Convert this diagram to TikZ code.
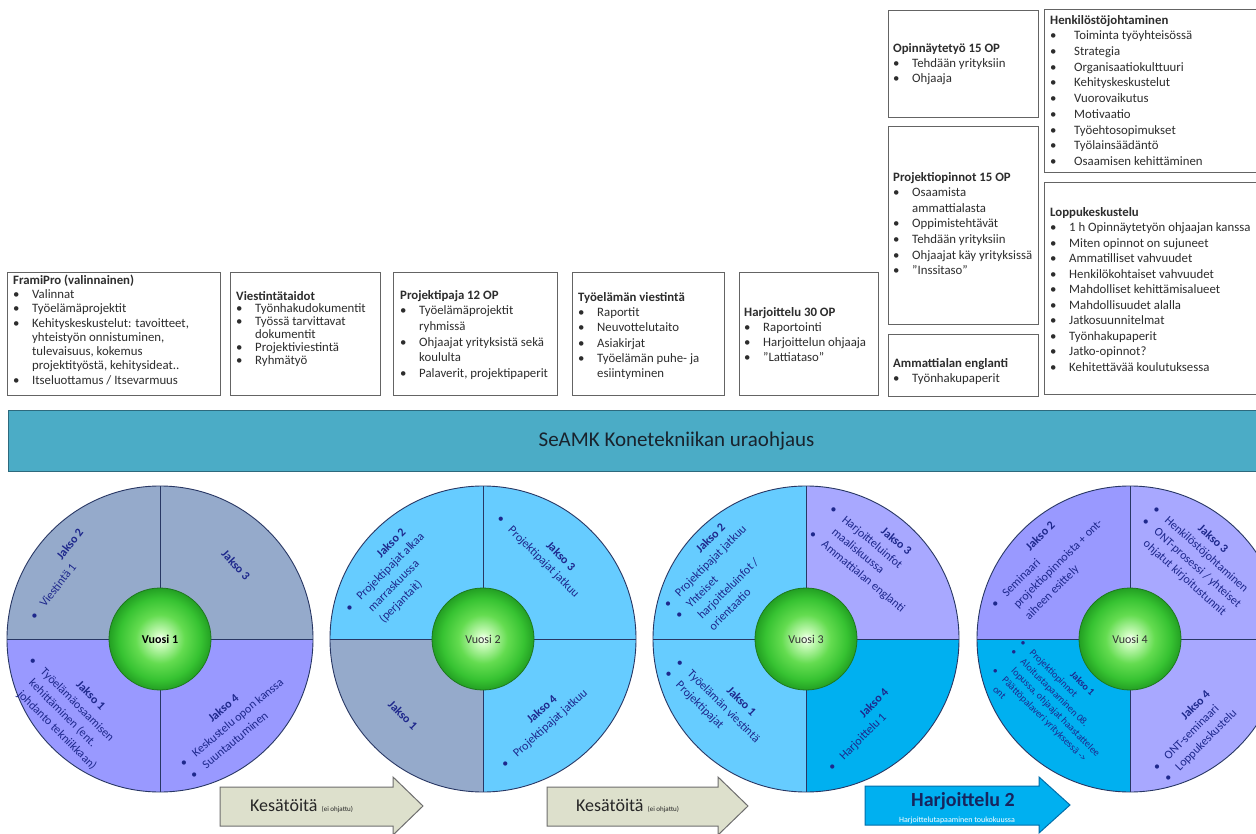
\documentclass[tikz,border=0pt]{standalone}
\usepackage{fontspec}
\setmainfont{Carlito}
\definecolor{boxline}{RGB}{100,100,100}
\definecolor{boxtext}{RGB}{45,45,45}
\definecolor{bannerfill}{RGB}{75,172,198}
\definecolor{bannerline}{RGB}{45,105,125}
\definecolor{bannertext}{RGB}{25,35,45}
\definecolor{qgray}{RGB}{149,170,203}
\definecolor{qlav}{RGB}{153,153,255}
\definecolor{qlavB}{RGB}{168,168,255}
\definecolor{qsky}{RGB}{102,204,255}
\definecolor{qblue}{RGB}{0,176,240}
\definecolor{qline}{RGB}{40,55,100}
\definecolor{qtext}{RGB}{30,40,140}
\definecolor{gdark}{RGB}{30,120,30}
\definecolor{gA}{RGB}{205,252,190}
\definecolor{gB}{RGB}{100,220,80}
\definecolor{gC}{RGB}{55,195,50}
\definecolor{gD}{RGB}{35,160,35}
\definecolor{arrfill}{RGB}{221,224,204}
\definecolor{arrline}{RGB}{110,110,110}
\definecolor{arrBfill}{RGB}{0,176,240}
\definecolor{arrBline}{RGB}{0,110,170}
\definecolor{harjtext}{RGB}{23,37,94}
\pgfdeclareradialshading{vball}{\pgfpoint{0bp}{0bp}}{color(0bp)=(white); color(3bp)=(gA); color(12bp)=(gB); color(20bp)=(gC); color(25bp)=(gD); color(50bp)=(gD)}
\newcommand{\bu}{\makebox[19pt][l]{\textbullet}}
\newcommand{\bi}{\hspace*{19pt}}
\newcommand{\bub}{\makebox[24pt][l]{\textbullet}}
\newcommand{\qb}{\makebox[16pt][l]{\textbullet}}
\newcommand{\qi}{\hspace*{16pt}}
\newcommand{\tp}{\rule{0pt}{10pt}}
\newcommand{\qs}{\rule{0pt}{9pt}}
% #1 name, #2 first bullet, #3 angle, #4 shift across, #5 title offset, #6 title, #7 list
\newcommand{\qlist}[7]{%
  \begin{scope}[shift={(#2)}, rotate=#3]
  \node[ql] (#1) at (-2.5,{-21+#4}) {\qs\hspace*{#5pt}\makebox[0pt][c]{\textbf{#6}}\\#7};
  \end{scope}}
\begin{document}
\begin{tikzpicture}[x=1pt,y=-1pt,
  box/.style={draw=boxline, line width=1pt, fill=white, inner sep=0pt, anchor=north west},
  btxt/.style={anchor=north west, inner sep=0pt, align=left, text=boxtext},
  qsep/.style={draw=qline, line width=0.9pt},
  qt/.style={text=qtext, inner sep=0pt, font=\fontsize{12}{16}\selectfont\bfseries},
  ql/.style={text=qtext, inner sep=0pt, align=left, anchor=north west, transform shape, font=\fontsize{12}{16}\selectfont},
  qls/.style={text=qtext, inner sep=0pt, align=left, anchor=north west, transform shape, font=\fontsize{10}{13}\selectfont},
  vuosi/.style={circle, draw=gdark, line width=0.8pt, minimum size=102pt, inner sep=0pt, shading=vball, font=\fontsize{12}{14}\selectfont},
  arrA/.style={fill=arrfill, draw=arrline, line width=1pt},
  arrB/.style={fill=arrBfill, draw=arrBline, line width=1pt}]
\useasboundingbox (0,0) rectangle (1256,834);
\fill[white] (0,0) rectangle (1256,834);

% ---------- top boxes ----------
\node[box, minimum width=213pt, minimum height=123pt] (fp) at (7,272) {};
\node[btxt, font=\fontsize{12.8}{14.3}\selectfont] (fpt) at (13,274) {\tp\textbf{FramiPro (valinnainen)}\\
\bu Valinnat\\
\bu Työelämäprojektit\\
\bu Kehityskeskustelut: tavoitteet,\\
\bi yhteistyön onnistuminen,\\
\bi tulevaisuus, kokemus\\
\bi projektityöstä, kehitysideat..\\
\bu Itseluottamus / Itsevarmuus};

\node[box, minimum width=150pt, minimum height=123pt] (vt) at (230,272) {};
\node[btxt, font=\fontsize{12.8}{12.8}\selectfont] (vtt) at (236,290) {\tp\textbf{Viestintätaidot}\\
\bu Työnhakudokumentit\\
\bu Työssä tarvittavat\\
\bi dokumentit\\
\bu Projektiviestintä\\
\bu Ryhmätyö};

\node[box, minimum width=164pt, minimum height=123pt] (pp) at (393,272) {};
\node[btxt, font=\fontsize{12.8}{15.6}\selectfont] (ppt) at (400,289) {\tp\textbf{Projektipaja 12 OP}\\
\bu Työelämäprojektit\\
\bi ryhmissä\\
\bu Ohjaajat yrityksistä sekä\\
\bi koululta\\
\bu Palaverit, projektipaperit};

\node[box, minimum width=152pt, minimum height=123pt] (tv) at (572,272) {};
\node[btxt, font=\fontsize{12.8}{15.3}\selectfont] (tvt) at (578,291) {\tp\textbf{Työelämän viestintä}\\
\bu Raportit\\
\bu Neuvottelutaito\\
\bu Asiakirjat\\
\bu Työelämän puhe- ja\\
\bi esiintyminen};

\node[box, minimum width=139pt, minimum height=123pt] (h30) at (739,272) {};
\node[btxt, font=\fontsize{12.8}{15}\selectfont] (h30t) at (744,306) {\tp\textbf{Harjoittelu 30 OP}\\
\bu Raportointi\\
\bu Harjoittelun ohjaaja\\
\bu ”Lattiataso”};

\node[box, minimum width=150pt, minimum height=107pt] (ot) at (888,10) {};
\node[btxt, font=\fontsize{12.8}{15}\selectfont] (ott) at (893,42) {\tp\textbf{Opinnäytetyö 15 OP}\\
\bu Tehdään yrityksiin\\
\bu Ohjaaja};

\node[box, minimum width=150pt, minimum height=198pt] (po) at (888,126) {};
\node[btxt, font=\fontsize{12.8}{15.6}\selectfont] (pot) at (893,171) {\tp\textbf{Projektiopinnot 15 OP}\\
\bu Osaamista\\
\bi ammattialasta\\
\bu Oppimistehtävät\\
\bu Tehdään yrityksiin\\
\bu Ohjaajat käy yrityksissä\\
\bu ”Inssitaso”};

\node[box, minimum width=150pt, minimum height=62pt] (ae) at (888,334) {};
\node[btxt, font=\fontsize{12.8}{15}\selectfont] (aet) at (893,357) {\tp\textbf{Ammattialan englanti}\\
\bu Työnhakupaperit};

\node[box, minimum width=216pt, minimum height=163pt] (hj) at (1044,9) {};
\node[btxt, font=\fontsize{12.8}{15.7}\selectfont] (hjt) at (1050,14) {\tp\textbf{Henkilöstöjohtaminen}\\
\bub Toiminta työyhteisössä\\
\bub Strategia\\
\bub Organisaatiokulttuuri\\
\bub Kehityskeskustelut\\
\bub Vuorovaikutus\\
\bub Motivaatio\\
\bub Työehtosopimukset\\
\bub Työlainsäädäntö\\
\bub Osaamisen kehittäminen};

\node[box, minimum width=216pt, minimum height=212pt] (lk) at (1044,182) {};
\node[btxt, font=\fontsize{12.8}{15.5}\selectfont] (lkt) at (1050,206) {\tp\textbf{Loppukeskustelu}\\
\bu 1 h Opinnäytetyön ohjaajan kanssa\\
\bu Miten opinnot on sujuneet\\
\bu Ammatilliset vahvuudet\\
\bu Henkilökohtaiset vahvuudet\\
\bu Mahdolliset kehittämisalueet\\
\bu Mahdollisuudet alalla\\
\bu Jatkosuunnitelmat\\
\bu Työnhakupaperit\\
\bu Jatko-opinnot?\\
\bu Kehitettävää koulutuksessa};

% ---------- banner ----------
\node[draw=bannerline, fill=bannerfill, line width=1pt, minimum width=1336pt, minimum height=61pt, anchor=north west, inner sep=0pt, text=bannertext, font=\fontsize{21}{24}\selectfont] (ban) at (8,410) {SeAMK Konetekniikan uraohjaus};

% ---------- circles ----------
\coordinate (c1) at (160,639);
\coordinate (c2) at (483,639);
\coordinate (c3) at (806,639);
\coordinate (c4) at (1130,639);

\begin{scope}
\clip (c1) circle (153pt);
\fill[qgray] (c1) rectangle ++(-160,-160);
\fill[qgray] (c1) rectangle ++(160,-160);
\fill[qlav] (c1) rectangle ++(-160,160);
\fill[qlav] (c1) rectangle ++(160,160);
\end{scope}
\begin{scope}
\clip (c2) circle (153pt);
\fill[qsky] (c2) rectangle ++(-160,-160);
\fill[qsky] (c2) rectangle ++(160,-160);
\fill[qgray] (c2) rectangle ++(-160,160);
\fill[qsky] (c2) rectangle ++(160,160);
\end{scope}
\begin{scope}
\clip (c3) circle (153pt);
\fill[qsky] (c3) rectangle ++(-160,-160);
\fill[qlavB] (c3) rectangle ++(160,-160);
\fill[qsky] (c3) rectangle ++(-160,160);
\fill[qblue] (c3) rectangle ++(160,160);
\end{scope}
\begin{scope}
\clip (c4) circle (153pt);
\fill[qlav] (c4) rectangle ++(-160,-160);
\fill[qlavB] (c4) rectangle ++(160,-160);
\fill[qblue] (c4) rectangle ++(-160,160);
\fill[qlavB] (c4) rectangle ++(160,160);
\end{scope}

\foreach \c in {c1,c2,c3,c4}{
  \draw[qsep] (\c) ++(0,-153) -- ++(0,306);
  \draw[qsep] (\c) ++(-153,0) -- ++(306,0);
  \draw[qsep] (\c) circle (153pt);
}

% ----- circle 1 -----
\qlist{c1q2}{32,615}{52}{1.8}{81.7}{Jakso 2}{\qb Viestintä 1}
\node[qt, rotate=-47] (c1q3t) at (236,565) {Jakso 3};
\qlist{c1q1}{35,658}{-45}{2.7}{68.3}{Jakso 1}{\qb Työelämäosaamisen\\\qi kehittäminen (ent.\\\qi johdanto tekniikkaan)}
\qlist{c1q4}{184,764}{40}{-1.6}{68.3}{Jakso 4}{\qb Keskustelu opon kanssa\\\qb Suuntautuminen}

% ----- circle 2 -----
\qlist{c2q2}{351,610}{45}{-3.5}{78.1}{Jakso 2}{\qb Projektipajat alkaa\\\qi marraskuussa\\\qi (perjantait)}
\qlist{c2q3}{502,517}{-45}{1.6}{71.5}{Jakso 3}{\qb Projektipajat jatkuu}
\node[qt, rotate=-45] (c2q1t) at (403,715) {Jakso 1};
\qlist{c2q4}{508,768}{42}{-5.5}{66.9}{Jakso 4}{\qb Projektipajat jatkuu}

% ----- circle 3 -----
\qlist{c3q2}{667,604}{45}{0}{79.5}{Jakso 2}{\qb Projektipajat jatkuu\\\qb Yhteiset\\\qi harjoitteluinfot /\\\qi orientaatio}
\qlist{c3q3}{837,505}{-40}{5.3}{71.1}{Jakso 3}{\qb Harjoitteluinfot\\\qi maaliskuussa\\\qb Ammattialan englanti}
\qlist{c3q1}{679,663}{-45}{-1.5}{73.5}{Jakso 1}{\qb Työelämän viestintä\\\qb Projektipajat}
\qlist{c3q4}{832,768}{45}{-0.9}{78.1}{Jakso 4}{\qb Harjoittelu 1}

% ----- circle 4 -----
\qlist{c4q2}{997,607}{45}{-4}{83.1}{Jakso 2}{\qb Seminaari\\\qi projektiopinnoista + ont-\\\qi aiheen esittely}
\qlist{c4q3}{1160,505}{-42}{5}{64.4}{Jakso 3}{\qb Henkilöstöjohtaminen\\\qb ONT-prosessi / yhteiset\\\qi ohjatut kirjoitustunnit}
\begin{scope}[shift={(1023,643)}, rotate=-45]
\node[qls] (c4q1) at (-2.5,-19.2) {\qs\hspace*{73.2pt}\makebox[0pt][c]{\textbf{Jakso 1}}\\\makebox[14pt][l]{\textbullet}Projektiopinnot\\\makebox[14pt][l]{\textbullet}Aloitustapaaminen 08.\\\hspace*{14pt}lopussa, ohjaajat haastattelee\\\makebox[14pt][l]{\textbullet}Päättöpalaveri yrityksessä ->\\\hspace*{14pt}ont};
\end{scope}
\qlist{c4q4}{1154,765}{45}{2.7}{73.9}{Jakso 4}{\qb ONT-seminaari\\\qb Loppukeskustelu}

% centre balls
\node[vuosi, text=black] (v1) at (c1) {\textbf{Vuosi 1}};
\node[vuosi, text=black!80] (v2) at (c2) {Vuosi 2};
\node[vuosi, text=black!80] (v3) at (c3) {Vuosi 3};
\node[vuosi, text=black!80] (v4) at (c4) {Vuosi 4};

% ---------- bottom arrows ----------
\draw[arrA] (220,787) -- (393,787) -- (393,777) -- (423,806) -- (393,835) -- (393,826) -- (220,826) -- cycle;
\draw[arrA] (547,787) -- (718,787) -- (718,777) -- (748,806) -- (718,835) -- (718,826) -- (547,826) -- cycle;
\draw[arrB] (865,786) -- (1039,786) -- (1039,777) -- (1070,805) -- (1039,833) -- (1039,825) -- (865,825) -- cycle;
\node[anchor=west, inner sep=0pt, text=black!85] (k1) at (250,806) {\fontsize{18}{20}\selectfont Kesätöitä \fontsize{7}{8}\selectfont(ei ohjattu)};
\node[anchor=west, inner sep=0pt, text=black!85] (k2) at (576,806) {\fontsize{18}{20}\selectfont Kesätöitä \fontsize{7}{8}\selectfont(ei ohjattu)};
\node[inner sep=0pt, text=harjtext, font=\fontsize{20}{22}\selectfont\bfseries] (h2) at (963,801) {Harjoittelu 2};
\node[inner sep=0pt, text=white, font=\fontsize{8}{9}\selectfont] (h2s) at (957,820) {Harjoittelutapaaminen toukokuussa};
\end{tikzpicture}
\end{document}
